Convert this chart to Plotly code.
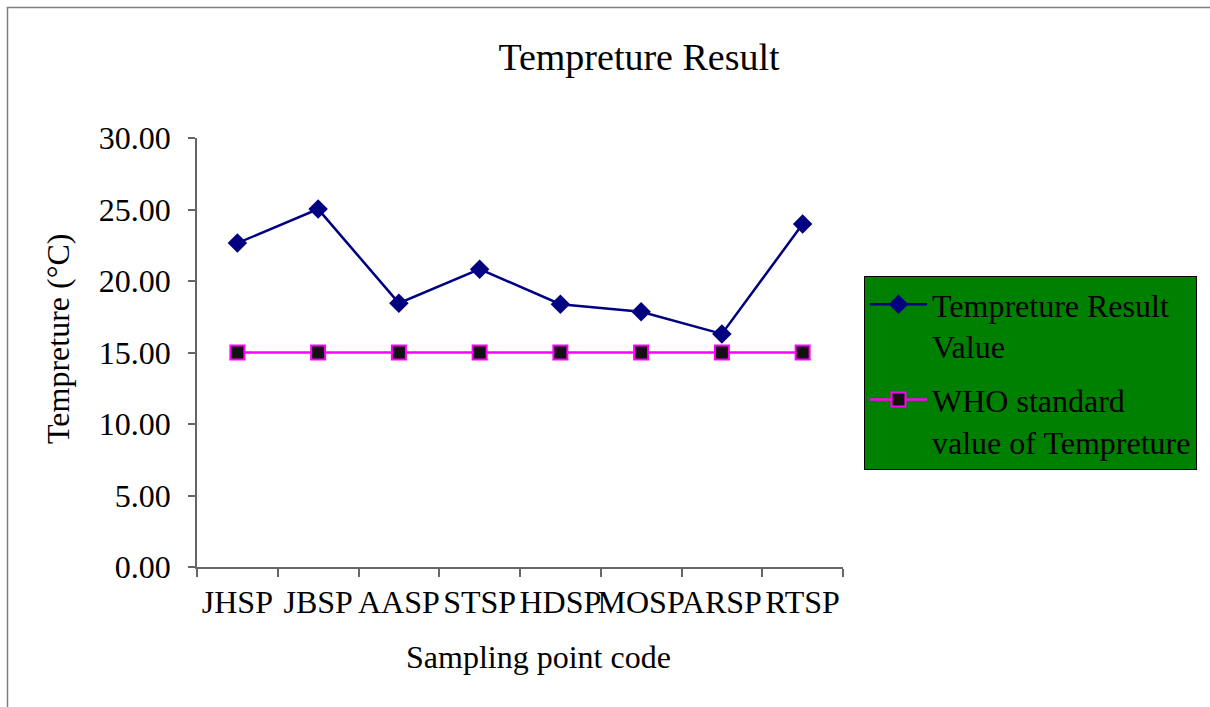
import plotly.graph_objects as go

categories = ["JHSP", "JBSP", "AASP", "STSP", "HDSP", "MOSP", "ARSP", "RTSP"]
result_values = [22.65, 25.03, 18.45, 20.83, 18.38, 17.85, 16.30, 23.98]
who_values = [15.0, 15.0, 15.0, 15.0, 15.0, 15.0, 15.0, 15.0]
y_ticks = [0, 5, 10, 15, 20, 25, 30]

FONT = "Liberation Serif, Times New Roman, serif"
W, H = 1210, 707
L, R, T, B = 197, 843, 138, 567

def px_x(p):
    return (p - L) / (R - L)

def px_y(p):
    return (B - p) / (B - T)

fig = go.Figure()
fig.add_trace(go.Scatter(
    x=categories, y=result_values, mode="lines+markers",
    name="Tempreture Result<br>Value", legendgroup="a",
    line=dict(color="#000080", width=2.5),
    marker=dict(symbol="diamond", size=15, color="#000080"),
))
fig.add_trace(go.Scatter(
    x=categories, y=who_values, mode="lines+markers",
    name="WHO standard<br>value of Tempreture", legendgroup="b",
    line=dict(color="#FF00FF", width=2.5),
    marker=dict(symbol="square", size=14, color="#111111",
                line=dict(color="#FF00FF", width=2)),
))

fig.update_layout(
    width=W, height=H,
    margin=dict(l=L, r=W - R, t=T, b=H - B, autoexpand=False),
    paper_bgcolor="white", plot_bgcolor="white",
    font=dict(family=FONT, size=32, color="black"),
    showlegend=True,
    title=dict(text="Tempreture Result", font=dict(family=FONT, size=38, color="black"),
               x=639 / W, xanchor="center", xref="container",
               y=1 - 57 / H, yanchor="middle", yref="container"),
    legend=dict(
        x=px_x(864), y=px_y(276), xanchor="left", yanchor="top",
        xref="paper", yref="paper",
        bgcolor="#008000", bordercolor="#000000", borderwidth=1,
        font=dict(family=FONT, size=32, color="black"),
        valign="top", tracegroupgap=9, itemwidth=57,
    ),
)

fig.update_xaxes(
    type="category", categoryorder="array", categoryarray=categories,
    range=[-0.5, len(categories) - 0.5],
    showline=True, linecolor="#666666", linewidth=1.5,
    ticks="outside", tickson="boundaries", ticklen=8, tickwidth=1.5, tickcolor="#666666",
    tickangle=0, tickfont=dict(family=FONT, size=32, color="black"),
    showgrid=False, zeroline=False, ticklabelstandoff=6,
)
fig.update_yaxes(
    range=[0, 30], tickmode="array", tickvals=y_ticks,
    ticktext=[f"{v:.2f}" for v in y_ticks],
    showline=True, linecolor="#666666", linewidth=1.5,
    ticks="outside", ticklen=7, tickwidth=1.5, tickcolor="#666666",
    tickfont=dict(family=FONT, size=32, color="black"),
    showgrid=False, zeroline=False, ticklabelstandoff=11,
)

fig.add_annotation(text="Tempreture (°C)", xref="paper", yref="paper",
                   x=px_x(58), y=px_y(339), xanchor="center", yanchor="middle",
                   textangle=-90, showarrow=False,
                   font=dict(family=FONT, size=32, color="black"))
fig.add_annotation(text="Sampling point code", xref="paper", yref="paper",
                   x=px_x(538), y=px_y(657), xanchor="center", yanchor="middle",
                   showarrow=False,
                   font=dict(family=FONT, size=32, color="black"))

fig.add_shape(type="rect", xref="paper", yref="paper",
              x0=px_x(7.5), y0=px_y(760), x1=px_x(1260), y1=px_y(7.5),
              line=dict(color="#808080", width=1.5), fillcolor="rgba(0,0,0,0)",
              layer="below")

fig.write_html("out.html")
